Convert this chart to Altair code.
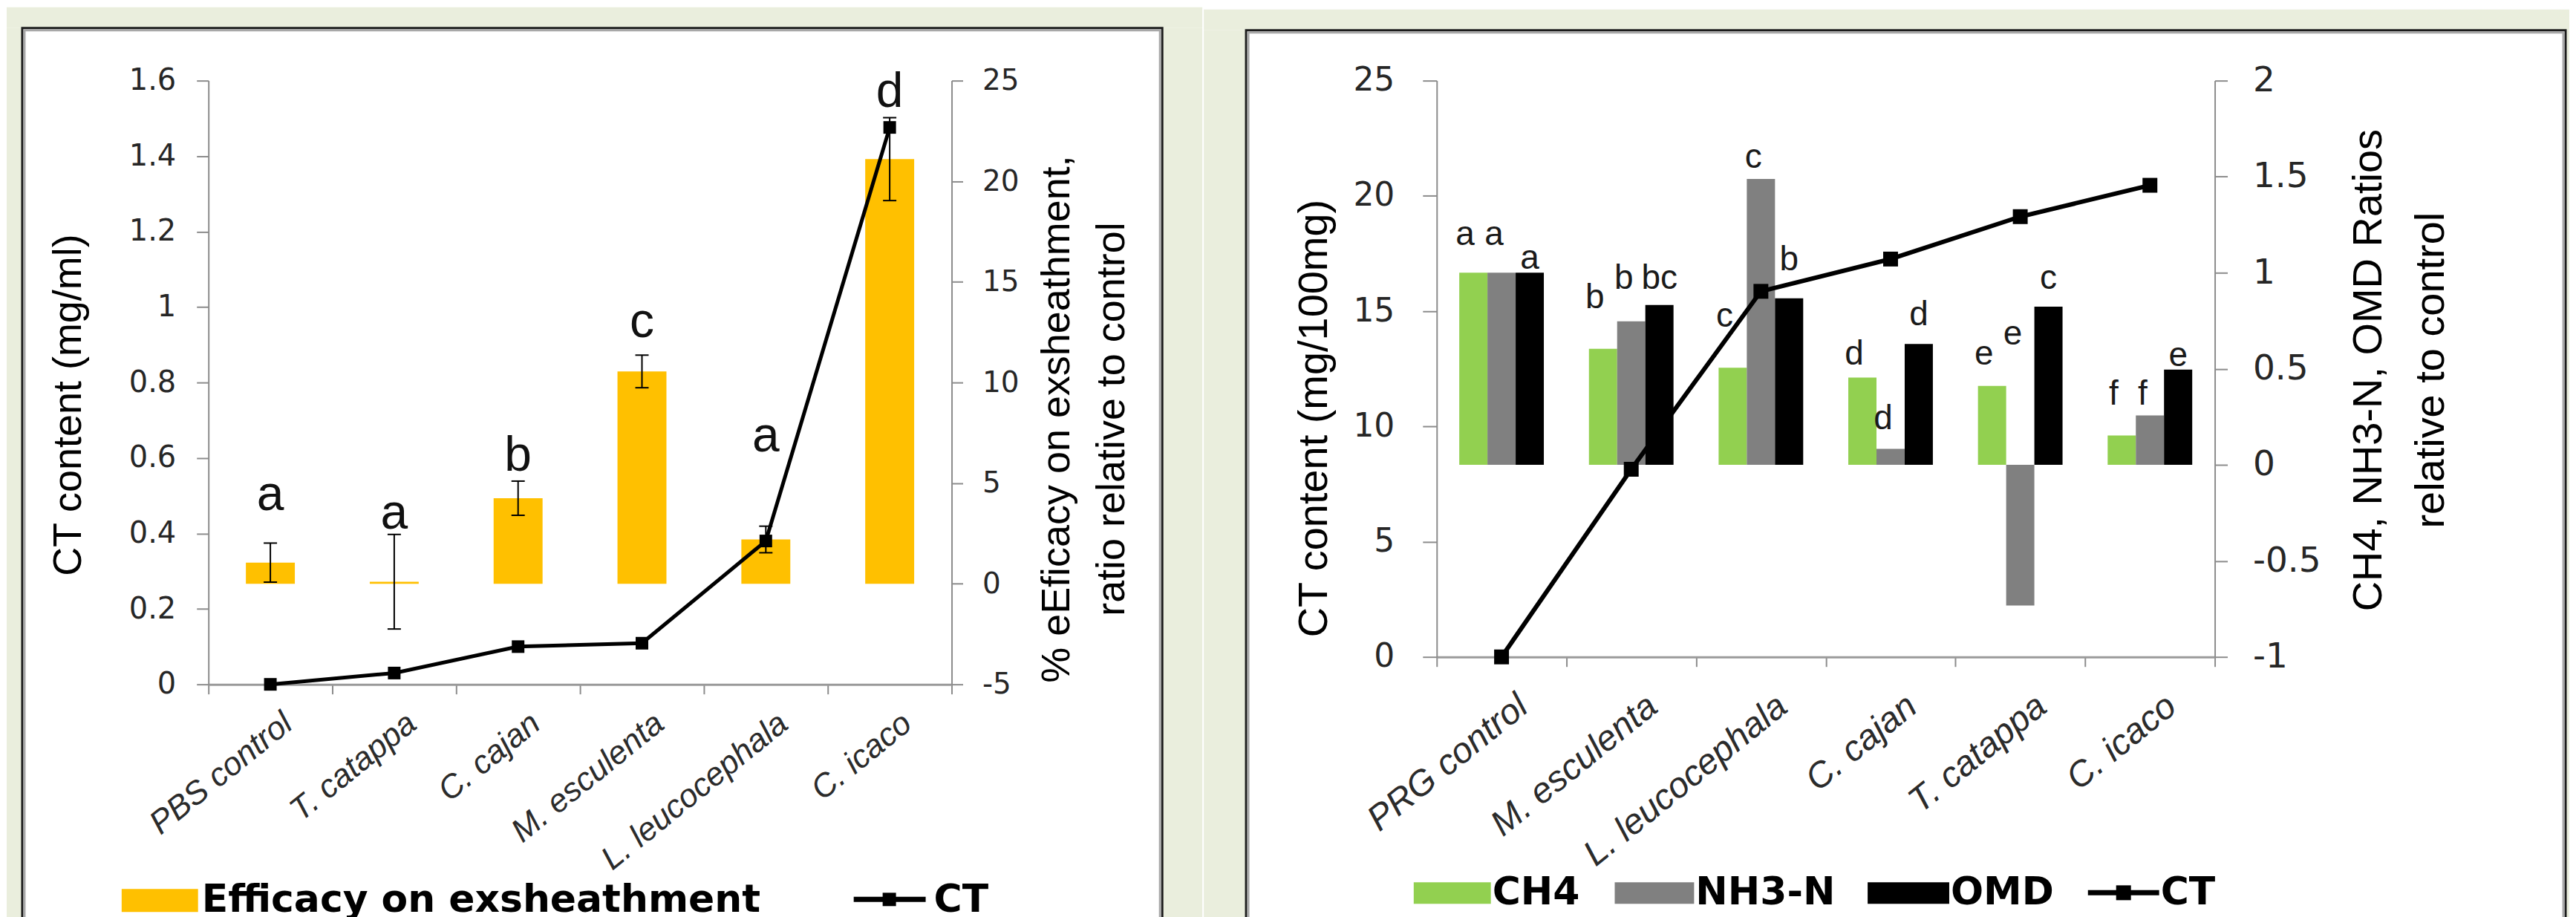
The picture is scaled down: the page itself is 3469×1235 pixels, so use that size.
import altair as alt
import pandas as pd

# ---------------- left panel: exsheathment efficacy + CT content ----------------
left_categories = ["PBS control", "T. catappa", "C. cajan", "M. esculenta", "L. leucocephala", "C. icaco"]
left_efficacy = [1.05, 0.1, 4.25, 10.55, 2.2, 21.1]          # % efficacy (right axis)
left_efficacy_err = [0.97, 2.35, 0.85, 0.81, 0.66, 2.06]
left_letters = ["a", "a", "b", "c", "a", "d"]
left_letter_y = [3.66, 2.72, 5.63, 12.26, 6.58, 23.7]
left_ct = [0.0, 0.03, 0.10, 0.109, 0.38, 1.476]              # CT content mg/ml (left axis)
left_ct_ticks = [0, 0.2, 0.4, 0.6, 0.8, 1, 1.2, 1.4, 1.6]
left_eff_ticks = [-5, 0, 5, 10, 15, 20, 25]
left_legend = ["Efficacy on exsheathment", "CT"]

# ---------------- right panel: CH4 / NH3-N / OMD ratios + CT content ----------------
right_categories = ["PRG control", "M. esculenta", "L. leucocephala", "C. cajan", "T. catappa", "C. icaco"]
right_series = ["CH4", "NH3-N", "OMD"]
right_ch4 = [1.0, 0.604, 0.505, 0.454, 0.411, 0.153]
right_nh3 = [1.0, 0.747, 1.488, 0.083, -0.732, 0.257]
right_omd = [1.0, 0.832, 0.867, 0.629, 0.823, 0.496]
right_ch4_letters = ["a", "b", "c", "d", "e", "f"]
right_nh3_letters = ["a", "b", "c", "d", "e", "f"]
right_omd_letters = ["a", "bc", "b", "d", "c", "e"]
right_ch4_letter_y = [1.143, 0.815, 0.718, 0.521, 0.521, 0.313]
right_nh3_letter_y = [1.143, 0.917, 1.546, 0.185, 0.625, 0.313]
right_omd_letter_y = [1.019, 0.917, 1.012, 0.727, 0.917, 0.514]
right_ct = [0.0, 8.14, 15.86, 17.26, 19.1, 20.46]
right_ct_ticks = [0, 5, 10, 15, 20, 25]
right_ratio_ticks = [-1, -0.5, 0, 0.5, 1, 1.5, 2]
right_legend = ["CH4", "NH3-N", "OMD", "CT"]

# ---------------- styles ----------------
GREEN_BG = "#EAEEDD"
GOLD = "#FFC000"
SERIES_COLORS = ["#92D050", "#808080", "#000000"]
SERIES_LETTER_DX = [-11, -10, 0]
AXIS_GRAY = "#8c8c8c"
TITLE_FONT = "Liberation Sans"
NUM_FONT = "DejaVu Sans"
LEGEND_FONT = "DejaVu Sans"
MINUS_FIX = "replace(datum.label, '\u2212', '-')"

one = pd.DataFrame({"k": [0]})


def rect(x1, x2, y1, y2, **kw):
    return alt.Chart(one).mark_rect(**kw).encode(
        x=alt.value(x1), x2=alt.value(x2), y=alt.value(y1), y2=alt.value(y2))


def label(x, y, s, **kw):
    return alt.Chart(one).mark_text(text=s, **kw).encode(x=alt.value(x), y=alt.value(y))


def hline(x1, x2, y, width):
    return alt.Chart(one).mark_rule(color="black", strokeWidth=width).encode(
        x=alt.value(x1), x2=alt.value(x2), y=alt.value(y))


def marker(x, y, size):
    return alt.Chart(one).mark_square(size=size, color="black", opacity=1).encode(
        x=alt.value(x), y=alt.value(y))


def frame(x0, x1, y0, pl, pr, pt, bottom):
    """green surround + bordered white panel (local pixel coordinates)."""
    return [
        rect(x0, x1, y0, pt, color=GREEN_BG),
        rect(x0, pl, pt, bottom, color=GREEN_BG),
        rect(pr, x1, pt, bottom, color=GREEN_BG),
        rect(pl, pr, pt, bottom + 20, filled=False, stroke="#1c1c1c", strokeWidth=3),
        rect(pl + 3, pr - 3, pt + 3, bottom + 20, filled=False, stroke="#a8a8a8", strokeWidth=3),
    ]


def x_axis(font_size, offset, padding):
    return alt.Axis(title=None, labelAngle=321, labelAlign="right", labelBaseline="top",
                    labelFont=TITLE_FONT, labelFontStyle="italic", labelFontSize=font_size,
                    labelColor="#2b2b2b", labelOffset=offset, labelPadding=padding,
                    labelLimit=800, labelOverlap=False, tickBand="extent", tickSize=13,
                    tickWidth=2, tickColor=AXIS_GRAY, domainColor="#9a9a9a", domainWidth=3,
                    grid=False)


def y_axis(orient, title, values, lab_size, lab_pad, tick_size, title_size, tx, ty, lh=60):
    return alt.Axis(orient=orient, title=title, values=values, format="~g", labelExpr=MINUS_FIX,
                    labelFont=NUM_FONT, labelFontSize=lab_size, labelColor="#262626",
                    labelPadding=lab_pad, tickSize=tick_size, tickWidth=2, tickColor=AXIS_GRAY,
                    domainColor=AXIS_GRAY, domainWidth=2, grid=False,
                    titleFont=TITLE_FONT, titleFontSize=title_size, titleFontWeight="normal",
                    titleColor="#000000", titleAngle=270, titleAlign="center",
                    titleBaseline="alphabetic", titleX=tx, titleY=ty, titleLineHeight=lh,
                    titleLimit=3000)


# =============================== LEFT PANEL ===============================
W1, H1 = 1002, 814
left_df = pd.DataFrame({"cat": left_categories, "eff": left_efficacy, "err": left_efficacy_err,
                        "letter": left_letters, "letter_y": left_letter_y, "ct": left_ct})
left_df["lo"] = left_df["eff"] - left_df["err"]
left_df["hi"] = left_df["eff"] + left_df["err"]

xL = alt.X("cat:N", sort=left_categories,
           scale=alt.Scale(domain=left_categories, paddingInner=0, paddingOuter=0),
           axis=x_axis(44, 10, 17))
effScale = alt.Scale(domain=[-5, 25], nice=False)
ctScaleL = alt.Scale(domain=[0, 1.6], nice=False)
effAxis = y_axis("right", ["% eEficacy on exsheathment,", "ratio relative to control"],
                 left_eff_ticks, 39, 26, 15, 54, 158, 456, 74)
ctAxisL = y_axis("left", "CT content (mg/ml)", left_ct_ticks, 40, 28, 16, 54, -172, 437)

baseL = alt.Chart(left_df)
bars_l = baseL.mark_bar(width=66, color=GOLD).encode(
    x=xL, y=alt.Y("eff:Q", scale=effScale, axis=effAxis))
err_l = baseL.mark_rule(color="black", strokeWidth=2).encode(
    x=xL, y=alt.Y("lo:Q", scale=effScale, axis=effAxis), y2="hi:Q")
cap_lo_l = baseL.mark_tick(color="black", thickness=2, size=18, opacity=1).encode(
    x=xL, y=alt.Y("lo:Q", scale=effScale, axis=effAxis))
cap_hi_l = baseL.mark_tick(color="black", thickness=2, size=18, opacity=1).encode(
    x=xL, y=alt.Y("hi:Q", scale=effScale, axis=effAxis))
letters_l = baseL.mark_text(font=TITLE_FONT, fontSize=66, baseline="alphabetic",
                            align="center", color="#111111").encode(
    x=xL, y=alt.Y("letter_y:Q", scale=effScale, axis=effAxis), text="letter:N")
bar_group_l = alt.layer(bars_l, err_l, cap_lo_l, cap_hi_l, letters_l)

line_l = baseL.mark_line(color="black", strokeWidth=5).encode(
    x=xL, y=alt.Y("ct:Q", scale=ctScaleL, axis=ctAxisL))
pts_l = baseL.mark_square(size=289, color="black", opacity=1).encode(
    x=xL, y=alt.Y("ct:Q", scale=ctScaleL, axis=ctAxisL))
line_group_l = alt.layer(line_l, pts_l)

legend_l = [
    rect(-117, -14, 1090, 1121, color=GOLD),
    label(-9, 1121, left_legend[0], align="left", baseline="alphabetic", font=LEGEND_FONT,
          fontSize=52, fontWeight="bold", color="black"),
    hline(870, 967, 1104, 7),
    marker(918, 1104, 324),
    label(978, 1121, left_legend[1], align="left", baseline="alphabetic", font=LEGEND_FONT,
          fontSize=52, fontWeight="bold", color="black"),
]

left = alt.layer(*frame(-272, 1340, -99, -251, 1286, -71, 1133),
                 bar_group_l, line_group_l, *legend_l).resolve_scale(
    y="independent").properties(width=W1, height=H1)

# =============================== RIGHT PANEL ===============================
W2, H2 = 1049, 777
rows = []
for i, cat in enumerate(right_categories):
    for s, vals, labs, pos in zip(right_series,
                                  [right_ch4, right_nh3, right_omd],
                                  [right_ch4_letters, right_nh3_letters, right_omd_letters],
                                  [right_ch4_letter_y, right_nh3_letter_y, right_omd_letter_y]):
        rows.append({"cat": cat, "series": s, "ratio": vals[i], "letter": labs[i],
                     "letter_y": pos[i]})
right_df = pd.DataFrame(rows)
right_ct_df = pd.DataFrame({"cat": right_categories, "ct": right_ct})

xR = alt.X("cat:N", sort=right_categories,
           scale=alt.Scale(domain=right_categories, paddingInner=0, paddingOuter=0),
           axis=x_axis(48, 14, 29))
xOff = alt.XOffset("series:N", sort=right_series,
                   scale=alt.Scale(domain=right_series, paddingInner=0, paddingOuter=0.8))
ratioScale = alt.Scale(domain=[-1, 2], nice=False)
ctScaleR = alt.Scale(domain=[0, 25], nice=False)
ratioAxis = y_axis("right", ["CH4, NH3-N, OMD Ratios", "relative to control"],
                   right_ratio_ticks, 47, 34, 17, 56, 224, 390, 84)
ctAxisR = y_axis("left", "CT content (mg/100mg)", right_ct_ticks, 44, 38, 19, 56, -148, 455)

baseR = alt.Chart(right_df)
bars_r = baseR.mark_bar().encode(
    x=xR, xOffset=xOff, y=alt.Y("ratio:Q", scale=ratioScale, axis=ratioAxis),
    color=alt.Color("series:N", scale=alt.Scale(domain=right_series, range=SERIES_COLORS),
                    legend=None))
letter_layers_r = []
for s, dx in zip(right_series, SERIES_LETTER_DX):
    letter_layers_r.append(
        baseR.transform_filter(alt.datum.series == s).mark_text(
            font=TITLE_FONT, fontSize=46, baseline="alphabetic", align="center",
            color="#1a1a1a", dx=dx).encode(
            x=xR, xOffset=xOff, y=alt.Y("letter_y:Q", scale=ratioScale, axis=ratioAxis),
            text="letter:N"))
bar_group_r = alt.layer(bars_r, *letter_layers_r)

baseRC = alt.Chart(right_ct_df)
line_r = baseRC.mark_line(color="black", strokeWidth=6).encode(
    x=xR, y=alt.Y("ct:Q", scale=ctScaleR, axis=ctAxisR))
pts_r = baseRC.mark_square(size=400, color="black", opacity=1).encode(
    x=xR, y=alt.Y("ct:Q", scale=ctScaleR, axis=ctAxisR))
line_group_r = alt.layer(line_r, pts_r)

legend_r = []
sw_x = [(-31, 73), (240, 347), (581, 691)]
txt_x = [75, 349, 693]
for k in range(3):
    legend_r.append(rect(sw_x[k][0], sw_x[k][1], 1081, 1110, color=SERIES_COLORS[k]))
    legend_r.append(label(txt_x[k], 1111, right_legend[k], align="left", baseline="alphabetic",
                          font=LEGEND_FONT, fontSize=52, fontWeight="bold", color="black"))
legend_r += [
    hline(878, 974, 1095, 7),
    marker(926, 1095, 400),
    label(976, 1111, right_legend[3], align="left", baseline="alphabetic", font=LEGEND_FONT,
          fontSize=52, fontWeight="bold", color="black"),
]

right = alt.layer(*frame(-314, 1527, -96, -257, 1522, -68, 1136),
                  bar_group_r, line_group_r, *legend_r).resolve_scale(
    y="independent").properties(width=W2, height=H2)

chart = alt.hconcat(left, right, spacing=0, bounds="full").properties(
    background="white", padding=0).configure_view(stroke="transparent")

chart.save("out.html", embed_options={"renderer": "svg", "actions": False})
